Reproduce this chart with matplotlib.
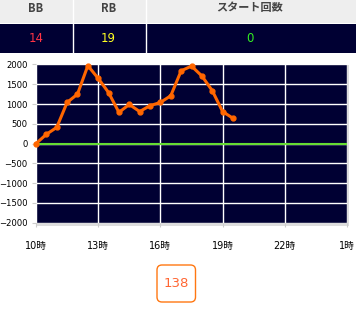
import matplotlib.pyplot as plt
from matplotlib.patches import Rectangle, FancyBboxPatch

# data
hours = [10, 10.5, 11, 11.5, 12, 12.5, 13, 13.5, 14, 14.5,
         15, 15.5, 16, 16.5, 17, 17.5, 18, 18.5, 19, 19.5]
values = [0, 235, 410, 1040, 1250, 1970, 1650, 1290, 790, 990,
          810, 960, 1040, 1210, 1840, 1960, 1710, 1340, 810, 640]
x_ticks = [10, 13, 16, 19, 22, 25]
x_labels = ["10時", "13時", "16時", "19時", "22時", "1時"]
y_ticks = [-2000, -1500, -1000, -500, 0, 500, 1000, 1500, 2000]

headers = ["BB", "RB", "スタート回数"]
counts = ["14", "19", "0"]
count_colors = ["#ff3344", "#ffff22", "#33ee22"]
total = "138"

plt.rcParams['font.family'] = ['DejaVu Sans', 'Noto Sans CJK JP']

W, H = 356, 315
fig = plt.figure(figsize=(W / 100, H / 100), dpi=100)

# background canvas in pixel units for the table and the button
bg = fig.add_axes([0, 0, 1, 1], zorder=0)
bg.set_xlim(0, W)
bg.set_ylim(H, 0)
bg.axis("off")

bg.add_patch(Rectangle((0, 0), W, 22.5, color="#eeeeee", lw=0))
bg.add_patch(Rectangle((0, 23.5), W, 29.5, color="#000033", lw=0))
for xs in [72.5, 145.5]:
    bg.plot([xs, xs], [0, 53], color="white", lw=1)
col_centers = [36, 108.5, 250]
for cx, h, c, cc in zip(col_centers, headers, counts, count_colors):
    bg.text(cx, 8, h, ha="center", va="center", fontsize=8, fontweight="bold",
            color="#444444", family=["Noto Sans CJK JP", "DejaVu Sans"])
    bg.text(cx, 38, c, ha="center", va="center", fontsize=8.5, color=cc)

# shadow behind the plot area
bg.add_patch(Rectangle((36, 64.5), 313, 161, color="#dddddd", lw=0))

# total button
bg.add_patch(FancyBboxPatch((157, 265), 38.5, 37, boxstyle="round,pad=0,rounding_size=5",
                            fc="white", ec="#ff7711", lw=1))
bg.text(176.5, 283.5, total, ha="center", va="center", fontsize=9.5, color="#ff6633")

# main chart
ax = fig.add_axes([36 / W, (H - 222.7) / H, 311 / W, 158.2 / H], zorder=1)
ax.set_facecolor("#000033")
ax.set_xlim(10, 25)
ax.set_ylim(-2000, 2000)
ax.set_xticks(x_ticks)
ax.set_xticklabels(x_labels)
ax.set_yticks(y_ticks)
ax.grid(True, color="white", lw=1)
ax.set_axisbelow(True)
for s in ax.spines.values():
    s.set_visible(False)
ax.tick_params(axis="both", colors="#cccccc", labelcolor="black", length=3)
ax.tick_params(axis="x", labelsize=7, pad=10)
ax.tick_params(axis="y", labelsize=6.1, pad=3)

ax.axhline(0, color="#66dd33", lw=1.5, zorder=2)
ax.plot(hours, values, color="#ff6600", lw=2.2, marker="o", markersize=3.5, zorder=3,
        clip_on=False)

fig.savefig("out.png", dpi=100)
